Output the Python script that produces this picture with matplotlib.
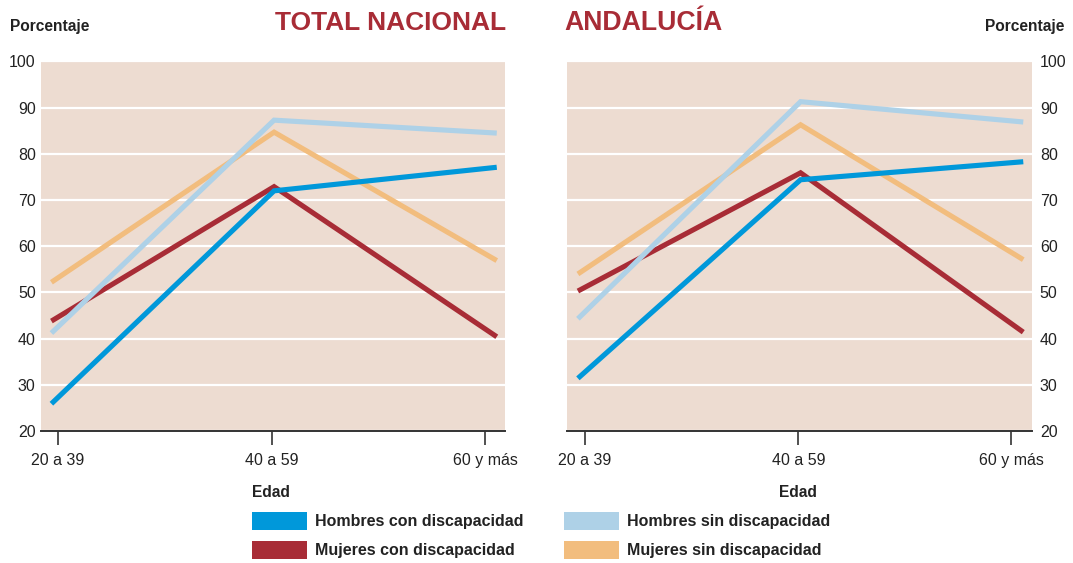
#!/usr/bin/env python3
"""
Tasa de actividad por edad, con y sin discapacidad: Total nacional frente a Andalucía.
"""

import matplotlib

matplotlib.use("Agg")
import matplotlib.pyplot as plt
from matplotlib.patches import Patch

EDADES = ["20 a 39", "40 a 59", "60 y más"]

# Total nacional (porcentaje)
NAC_HOMBRES_CON = [25.9, 72.0, 77.1]
NAC_MUJERES_CON = [43.8, 72.9, 40.4]
NAC_HOMBRES_SIN = [41.2, 87.3, 84.5]
NAC_MUJERES_SIN = [52.2, 84.7, 56.9]

# Andalucía (porcentaje)
AND_HOMBRES_CON = [31.4, 74.4, 78.3]
AND_MUJERES_CON = [50.3, 75.9, 41.4]
AND_HOMBRES_SIN = [44.3, 91.3, 86.9]
AND_MUJERES_SIN = [54.0, 86.3, 57.1]

SERIES = ["Hombres con discapacidad", "Mujeres con discapacidad",
          "Hombres sin discapacidad", "Mujeres sin discapacidad"]
COLORS = {
    "Hombres con discapacidad": "#0098da",
    "Mujeres con discapacidad": "#a82c36",
    "Hombres sin discapacidad": "#aed1e7",
    "Mujeres sin discapacidad": "#f2bd7e",
}
# drawing order (bottom to top)
DRAW_ORDER = ["Mujeres sin discapacidad", "Mujeres con discapacidad",
              "Hombres sin discapacidad", "Hombres con discapacidad"]

BG = "#eddcd1"
TXT = "#222222"
TITLE_RED = "#a82c36"
FONT = ["Liberation Sans", "DejaVu Sans"]

W, H = 1073, 563


def fx(px):
    return px / W


def fy(py):
    return 1 - py / H


def draw_panel(ax, data, right=False):
    xs = list(range(len(EDADES)))
    for name in DRAW_ORDER:
        ax.plot(xs, data[name], color=COLORS[name], linewidth=3.7,
                solid_capstyle="butt", solid_joinstyle="miter", zorder=3)
    ax.set_facecolor(BG)
    ax.set_xlim(-0.049, 2.037)
    ax.set_ylim(20, 100)
    ax.set_yticks(range(20, 101, 10))
    ax.set_xticks([0.03, 0.99, 1.947])
    ax.set_xticklabels(EDADES)
    ax.grid(axis="y", color="white", linewidth=1.6, zorder=1)
    ax.set_axisbelow(True)
    for side in ("top", "left", "right"):
        ax.spines[side].set_visible(False)
    ax.spines["bottom"].set_color("#333333")
    ax.spines["bottom"].set_linewidth(1.4)
    ax.tick_params(axis="x", length=10, width=1.2, color="#333333",
                   pad=6, labelsize=11.5, labelcolor=TXT)
    ax.tick_params(axis="y", length=0, labelsize=11.5, labelcolor=TXT,
                   pad=6 if right else 3.5)
    if right:
        ax.yaxis.tick_right()
    for lab in ax.get_xticklabels() + ax.get_yticklabels():
        lab.set_family(FONT)


def main():
    plt.rcParams["font.family"] = FONT
    fig = plt.figure(figsize=(W / 100, H / 100), dpi=100)

    ax_l = fig.add_axes([fx(40.5), fy(431), fx(505 - 40.5), (431 - 61.5) / H])
    ax_r = fig.add_axes([fx(567), fy(431), fx(1031.5 - 567), (431 - 61.5) / H])

    nac = dict(zip(SERIES, [NAC_HOMBRES_CON, NAC_MUJERES_CON, NAC_HOMBRES_SIN, NAC_MUJERES_SIN]))
    anda = dict(zip(SERIES, [AND_HOMBRES_CON, AND_MUJERES_CON, AND_HOMBRES_SIN, AND_MUJERES_SIN]))
    draw_panel(ax_l, nac)
    draw_panel(ax_r, anda, right=True)

    # titles and axis captions
    fig.text(fx(275), fy(30), "TOTAL NACIONAL", color=TITLE_RED, fontsize=19.0,
             fontweight="bold", ha="left", va="baseline")
    fig.text(fx(564), fy(30), "ANDALUCÍA", color=TITLE_RED, fontsize=19.2,
             fontweight="bold", ha="left", va="baseline")
    fig.text(fx(10), fy(31.5), "Porcentaje", color=TXT, fontsize=11.2,
             fontweight="bold", ha="left", va="baseline")
    fig.text(fx(1064), fy(31.5), "Porcentaje", color=TXT, fontsize=11.2,
             fontweight="bold", ha="right", va="baseline")
    fig.text(fx(271), fy(497), "Edad", color=TXT, fontsize=11.2,
             fontweight="bold", ha="center", va="baseline")
    fig.text(fx(798), fy(497), "Edad", color=TXT, fontsize=11.2,
             fontweight="bold", ha="center", va="baseline")

    # legends (two columns of two entries)
    for names, left in ((SERIES[:2], 252), (SERIES[2:], 564)):
        handles = [Patch(facecolor=COLORS[n], edgecolor="none", label=n) for n in names]
        leg = fig.legend(handles=handles, loc="upper left",
                         bbox_to_anchor=(fx(left), fy(511.5)), frameon=False,
                         borderpad=0, borderaxespad=0, handlelength=3.45,
                         handleheight=1.36, handletextpad=0.5, labelspacing=0.72,
                         prop={"family": FONT, "weight": "bold", "size": 11.5})
        for t in leg.get_texts():
            t.set_color(TXT)

    fig.savefig("out.png", dpi=100)
    plt.close(fig)


if __name__ == "__main__":
    main()
